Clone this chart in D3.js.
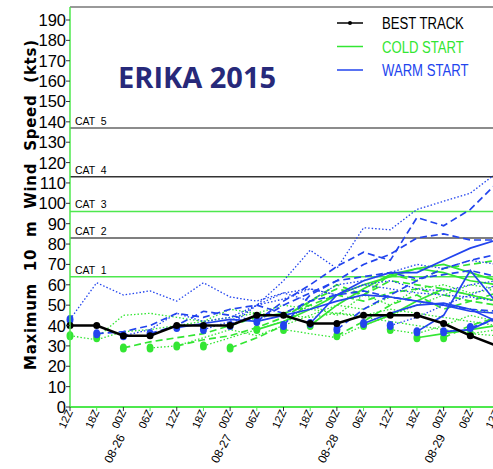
<!DOCTYPE html>
<html lang="en">

<head>
    <meta charset="UTF-8">
    <title>ERIKA 2015 intensity</title>
    <script src="https://cdn.jsdelivr.net/npm/d3@7"></script>
</head>

<body>
    <script>
        const width = 493;
        const height = 469;

        // time axis: 6-hourly steps starting 08-25 12Z
        const timeLabels = ["12Z", "18Z", "00Z", "06Z", "12Z", "18Z", "00Z", "06Z", "12Z", "18Z", "00Z", "06Z", "12Z", "18Z", "00Z", "06Z", "12Z"];
        const dateLabels = [[2, "08-26"], [6, "08-27"], [10, "08-28"], [14, "08-29"]];
        const yTicks = d3.range(0, 200, 10);

        // Saffir-Simpson thresholds
        const catNames = ["CAT 1", "CAT 2", "CAT 3", "CAT 4", "CAT 5"];
        const catValues = [64, 83, 96, 113, 137];
        const catColors = ["#4ee84e", "#555", "#4ee84e", "#333", "#666"];

        const bestTrack = [40, 40, 35, 35, 40, 40, 40, 45, 45, 41, 41, 45, 45, 45, 41, 35, 30];

        // forecasts: [init step, line style, intensities from init onward]
        const warmStart = [
            [0, "dot", [43, 61, 55, 57, 52, 61, 54, 52, 56, 58, 55, 60, 58, 56, 55, 54, 52]],
            [1, "dash", [36, 37, 40, 46, 44, 48, 50, 46, 52, 55, 57, 54, 52, 50, 48, 47]],
            [2, "dot", [35, 38, 46, 42, 44, 50, 53, 58, 55, 60, 62, 58, 57, 60, 62]],
            [3, "dash", [36, 40, 47, 45, 42, 50, 56, 62, 64, 66, 63, 65, 67, 64]],
            [4, "solid", [39, 41, 43, 42, 45, 48, 52, 55, 54, 52, 50, 47, 46]],
            [5, "dot", [38, 42, 50, 56, 52, 60, 62, 66, 70, 68, 72, 70]],
            [6, "dot", [40, 50, 62, 77, 68, 88, 87, 97, 101, 105, 115]],
            [7, "dash", [42, 52, 60, 69, 76, 72, 93, 89, 97, 110]],
            [8, "dash", [40, 55, 62, 70, 75, 83, 85, 82, 82]],
            [9, "solid", [41, 55, 62, 66, 66, 72, 78, 82]],
            [10, "dash", [38, 48, 55, 62, 68, 72, 75]],
            [11, "solid", [41, 46, 50, 51, 48, 42]],
            [12, "dot", [40, 44, 50, 55, 60]],
            [13, "solid", [37, 45, 67, 51]],
            [14, "solid", [37, 38, 44]],
            [15, "dash", [39, 43]]
        ];

        const coldStart = [
            [0, "dot", [35, 33, 37, 38, 40, 42, 44, 46, 45, 44, 46, 44, 42, 40, 38, 36, 35]],
            [1, "dot", [34, 45, 46, 44, 42, 48, 46, 50, 48, 46, 45, 48, 46, 44, 42, 40]],
            [2, "dash", [29, 32, 34, 36, 40, 44, 46, 50, 55, 52, 56, 58, 55, 52, 50]],
            [3, "dot", [29, 30, 34, 38, 35, 40, 45, 50, 48, 54, 52, 50, 48, 46]],
            [4, "dash", [30, 33, 35, 39, 44, 52, 58, 55, 62, 60, 58, 55, 52]],
            [5, "dot", [30, 34, 38, 42, 50, 45, 55, 50, 58, 60, 56, 58]],
            [6, "dash", [29, 34, 40, 52, 60, 55, 65, 62, 68, 70, 72]],
            [7, "solid", [38, 42, 48, 55, 60, 64, 68, 66, 62, 60]],
            [8, "dot", [38, 36, 34, 40, 45, 50, 55, 60, 58]],
            [9, "solid", [40, 50, 58, 65, 68, 70, 66, 62]],
            [10, "dash", [35, 42, 50, 55, 48, 52, 56]],
            [11, "solid", [40, 45, 52, 58, 55, 52]],
            [12, "dot", [38, 36, 40, 45, 42]],
            [13, "solid", [34, 36, 38, 40]],
            [14, "dash", [34, 40, 44]],
            [15, "dot", [36, 38]]
        ];

        const green = "#33e633";
        const blue = "#2244ee";
        const dashes = { solid: null, dash: "7,4", dot: "1.5,2" };

        const svg = d3.select("body").append("svg").attr("width", width).attr("height", height);

        const x = d3.scaleLinear().domain([0, 16]).range([70, 497]);
        const y = d3.scaleLinear().domain([0, 190]).range([407, 20]);
        const plotTop = 7;

        // frame
        svg.append("line").attr("x1", 70).attr("x2", width).attr("y1", plotTop).attr("y2", plotTop)
            .attr("stroke", "#777").attr("stroke-width", 1.5);

        // category lines
        const cats = svg.append("g").selectAll("g")
            .data(catValues)
            .join("g");
        cats.append("line")
            .attr("x1", 70).attr("x2", width)
            .attr("y1", d => y(d)).attr("y2", d => y(d))
            .attr("stroke", (d, i) => catColors[i])
            .attr("stroke-width", 1.5);
        cats.append("text")
            .attr("x", 75).attr("y", d => y(d) - 3)
            .attr("font-family", "Liberation Sans, Arial, sans-serif")
            .attr("font-size", 10.5)
            .style("white-space", "pre")
            .text((d, i) => catNames[i].replace(" ", "  "));

        // forecast lines
        const line = d3.line().x(d => x(d[0])).y(d => y(d[1]));
        const drawSet = (data, color) => {
            const g = svg.append("g");
            g.selectAll("path")
                .data(data)
                .join("path")
                .attr("d", d => line(d[2].map((v, k) => [d[0] + k, v])))
                .attr("fill", "none")
                .attr("stroke", color)
                .attr("stroke-width", d => d[1] === "dot" ? 1.3 : 1.7)
                .attr("stroke-dasharray", d => dashes[d[1]]);
            g.selectAll("ellipse")
                .data(data)
                .join("ellipse")
                .attr("cx", d => x(d[0]))
                .attr("cy", d => y(d[2][0]))
                .attr("rx", 3.5).attr("ry", 4.5)
                .attr("fill", color);
        };
        drawSet(coldStart, green);
        drawSet(warmStart, blue);

        // best track
        svg.append("path")
            .attr("d", line(bestTrack.map((v, i) => [i, v])))
            .attr("fill", "none").attr("stroke", "black").attr("stroke-width", 2.5);
        svg.append("g").selectAll("circle")
            .data(bestTrack)
            .join("circle")
            .attr("cx", (d, i) => x(i)).attr("cy", d => y(d))
            .attr("r", 3.5).attr("fill", "black");

        // axes
        svg.append("line").attr("x1", 70).attr("x2", 70).attr("y1", plotTop).attr("y2", 407)
            .attr("stroke", "#4ee84e").attr("stroke-width", 1.5);
        svg.append("line").attr("x1", 70).attr("x2", width).attr("y1", 407).attr("y2", 407)
            .attr("stroke", "#4ee84e").attr("stroke-width", 2);

        const yAxis = svg.append("g");
        yAxis.selectAll("line").data(yTicks).join("line")
            .attr("x1", 66).attr("x2", 70).attr("y1", d => y(d)).attr("y2", d => y(d))
            .attr("stroke", "#333");
        yAxis.selectAll("text").data(yTicks).join("text")
            .attr("x", 66).attr("y", d => y(d) + 6)
            .attr("text-anchor", "end")
            .attr("font-family", "Liberation Sans, Arial, sans-serif")
            .attr("font-size", 16.5)
            .text(d => d);

        const xAxis = svg.append("g");
        xAxis.selectAll("line").data(timeLabels).join("line")
            .attr("x1", (d, i) => x(i)).attr("x2", (d, i) => x(i))
            .attr("y1", 407).attr("y2", 411)
            .attr("stroke", (d, i) => (i % 2 === 0) ? "#333" : "#4ee84e");
        xAxis.selectAll("text.t").data(timeLabels).join("text")
            .attr("class", "t")
            .attr("transform", (d, i) => `translate(${x(i) + 3},412) rotate(-65)`)
            .attr("text-anchor", "end")
            .attr("font-family", "Liberation Sans, Arial, sans-serif")
            .attr("font-size", 11)
            .text(d => d);
        xAxis.selectAll("text.d").data(dateLabels).join("text")
            .attr("class", "d")
            .attr("transform", d => `translate(${x(d[0]) + 2},437) rotate(-62)`)
            .attr("text-anchor", "end")
            .attr("font-family", "Liberation Sans, Arial, sans-serif")
            .attr("font-size", 12)
            .text(d => d[1]);

        // y title
        svg.append("text")
            .attr("transform", "translate(36,205) rotate(-90)")
            .attr("text-anchor", "middle")
            .attr("font-family", "DejaVu Sans, sans-serif")
            .attr("font-weight", "bold")
            .attr("font-size", 15)
            .attr("textLength", 330)
            .attr("lengthAdjust", "spacing")
            .style("white-space", "pre")
            .text("Maximum  10  m  Wind  Speed  (kts)");

        // title
        svg.append("text")
            .attr("x", 118).attr("y", 88)
            .attr("font-family", "Open Sans, sans-serif")
            .attr("font-weight", "bold")
            .attr("font-size", 29)
            .attr("fill", "#27297a")
            .text("ERIKA 2015");

        // legend
        const legendItems = [["BEST TRACK", "black"], ["COLD START", green], ["WARM START", blue]];
        const legend = svg.append("g").selectAll("g")
            .data(legendItems)
            .join("g")
            .attr("transform", (d, i) => `translate(0,${23 + i * 23.5})`);
        legend.append("line")
            .attr("x1", 337).attr("x2", 363)
            .attr("stroke", d => d[1]).attr("stroke-width", 1.5);
        legend.filter((d, i) => i === 0).append("circle")
            .attr("cx", 350).attr("r", 2).attr("fill", "black");
        legend.append("text")
            .attr("transform", "translate(382,6) scale(0.82,1)")
            .attr("font-family", "Liberation Sans, Arial, sans-serif")
            .attr("font-size", 16)
            .attr("fill", d => d[1])
            .text(d => d[0]);
    </script>
    <style>
        * {
            margin: 0;
            padding: 0;
        }
    </style>
</body>

</html>
